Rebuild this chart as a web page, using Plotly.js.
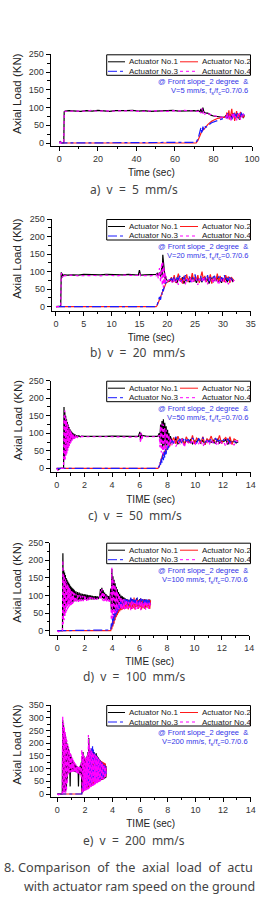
<!DOCTYPE html>
<html><head><meta charset="utf-8">
<script src="https://cdn.plot.ly/plotly-3.0.1.min.js"></script>
<style>html,body{margin:0;padding:0;background:#fff;}#chart{width:260px;height:899px;}</style>
</head><body><div id="chart"></div>
<script>
// ---------- series / labels ----------
const seriesNames = ["Actuator No.1", "Actuator No.2", "Actuator No.3", "Actuator No.4"];
const captions = ["a) v = 5 mm/s", "b) v = 20 mm/s", "c) v = 50 mm/s", "d) v = 100 mm/s", "e) v = 200 mm/s"];
const noteLine1 = "@ Front slope_2 degree  &";
const speedLabels = ["V=5 mm/s", "V=20 mm/s", "V=50 mm/s", "V=100 mm/s", "V=200 mm/s"];
const ratioLabel = 'f<span style="font-size:5.5px;baseline-shift:-2px">s</span>/f<span style="font-size:5.5px;baseline-shift:-2px">c</span>=0.7/0.6';
const xTitles = ["Time (sec)", "Time (sec)", "TIME (sec)", "TIME (sec)", "TIME (sec)"];
const yTitle = "Axial Load (KN)";
const figCaption1 = "8. Comparison  of  the  axial  load  of  actu";
const figCaption2 = "with actuator ram speed on the ground";

// ---------- a) v = 5 mm/s ----------
const t_a = [0,0.5,1,1.5,2,2.3,2.5,3,
 5,8,11,14,17,20,23,26,29,32,35,38,41,44,47,50,53,56,59,62,65,68,
 70,71,72,73,73.5,74,74.5,75,75.5,76,
 77,78,79,80,81,82,83,84,85,86,
 86.5,87,87.5,88,88.5,89,89.5,90,90.5,91,91.5,92,92.5,93,93.5,94,94.5,95,95.5,96];
const a1 = [0,5,0,0,0,0,88,90,
 91,90,89,91,90,92,90,89,91,90,91,92,90,91,89,90,91,90,92,90,91,90,
 91,90,92,88,96,85,100,88,86,84,
 84,80,78,76,75,74,74,73,72,74,
 78,70,82,72,76,80,68,84,74,79,70,86,72,78,66,82,75,80,70,78];
const a2 = [0,4,0,0,0,0,0,0,
 0,0,0,0,0,0,0,0,0,0,0,0,0,0,0,0,0,0,0,0,0,0,
 0,0,8,22,28,34,36,40,43,45,
 52,57,61,64,67,69,70,71,72,73,
 74,86,70,92,66,80,96,72,84,62,78,90,70,82,68,88,74,80,72,78];
const a3 = [0,3,0,0,0,0,0,0,
 0,0,0,0,0,0,0,0,0,0,0,0,0,0,0,0,0,0,0,0,0,0,
 0,2,12,30,44,26,46,38,48,44,
 50,53,57,59,62,64,66,67,69,71,
 76,70,84,72,80,74,66,82,76,88,72,78,84,70,80,76,86,72,82,78];
const a4 = [0,2,0,0,0,0,86,89,
 90,91,90,90,92,89,91,90,90,92,90,91,89,90,92,91,90,89,91,90,92,91,
 90,91,89,92,84,98,82,90,80,86,
 83,80,79,77,76,74,75,73,72,72,
 70,84,66,80,74,62,82,70,86,68,76,64,80,72,84,66,78,70,82,74];

// ---------- b) v = 20 mm/s ----------
const t_b = [0,0.5,0.85,0.95,1.05,1.15,1.3,1.5,2,
 3,4,5,6,7,8,9,10,11,12,13,14,
 14.8,15,15.2,16,17,17.6,18,
 18.2,18.4,18.6,18.8,19,
 19.1,19.2,19.3,19.4,19.5,19.6,19.7,19.8,
 20,20.25,20.5,
 20.75,21,21.25,21.5,21.75,22,22.25,22.5,22.75,23,23.25,23.5,23.75,24,24.25,24.5,24.75,25,25.25,25.5,25.75,26,26.25,26.5,26.75,27,27.25,27.5,27.75,28,28.25,28.5,28.75,29,29.25,29.5,29.75,30,30.25,30.5,30.75,31,31.25,31.5,31.75,32];
const b1 = [0,0,2,98,86,94,88,91,90,
 91,90,92,91,90,91,92,91,90,91,92,91,
 90,104,90,91,92,91,92,
 95,88,98,86,110,
 90,148,130,120,95,80,88,78,
 75,72,74,
 78,70,82,74,68,80,76,72,84,66,78,74,80,70,76,86,72,78,68,82,74,76,70,84,78,72,80,66,76,82,70,78,74,86,72,76,68,80,74,84,70,78,76,82,72,76];
const b2 = [0,0,0,0,0,0,0,0,0,
 0,0,0,0,0,0,0,0,0,0,0,0,
 0,0,0,0,0,0,0,
 4,12,22,30,38,
 42,48,52,56,60,62,66,68,
 70,72,76,
 84,72,90,68,80,94,74,82,66,88,76,92,70,84,78,96,72,86,74,90,68,82,100,76,88,70,84,78,92,66,86,80,74,94,72,88,76,82,70,90,78,86,68,84,80,74];
const b3 = [0,0,0,0,0,0,0,0,0,
 0,0,0,0,0,0,0,0,0,0,0,0,
 0,0,0,0,0,0,0,
 6,16,28,20,40,
 34,50,44,58,62,66,68,70,
 72,74,76,
 80,74,86,70,82,78,88,72,84,76,90,74,80,86,70,84,78,92,74,82,76,88,72,80,86,76,90,70,84,78,82,88,74,80,86,72,84,78,90,76,82,74,88,80,76,82];
const b4 = [0,0,0,92,96,82,92,88,89,
 90,88,89,90,89,88,90,89,88,90,89,88,
 89,96,88,89,88,90,88,
 96,80,110,70,125,
 60,130,55,115,65,100,70,85,
 72,76,70,
 74,66,80,70,76,62,82,72,68,78,64,80,74,70,84,66,76,72,80,62,78,70,74,86,68,76,64,80,72,78,66,84,70,74,62,80,76,68,82,70,74,64,78,72,68,76];

// ---------- c) v = 50 mm/s ----------
const t_c = [0,0.1,0.2,0.3,0.45,0.5,
 0.53,0.56,0.59,0.62,0.65,0.68,0.71,0.74,0.77,0.8,0.83,0.86,0.89,0.92,0.95,0.98,1.01,1.04,1.07,1.1,1.13,1.16,1.19,1.22,1.25,
 1.3,1.35,1.4,1.45,1.5,1.6,1.7,1.8,2,
 2.5,3,3.5,4,4.5,5,5.5,5.9,
 6,6.05,6.1,6.15,6.2,6.5,7,7.3,
 7.4,7.45,7.5,7.55,7.6,7.65,7.7,7.75,7.8,7.85,7.9,7.95,8,8.05,8.1,8.15,8.2,
 8.3,8.45,8.6,8.75,8.9,9.05,9.2,9.35,9.5,9.65,9.8,9.95,10.1,10.25,10.4,10.55,10.7,10.85,11,11.15,11.3,11.45,11.6,11.75,11.9,12.05,12.2,12.35,12.5,12.65,12.8,12.95,13.1];
const c1 = [0,-4,-2,0,0,0,
 175,30,160,40,150,45,140,55,132,60,125,68,118,72,112,76,108,80,105,82,102,84,100,86,98,
 88,96,89,94,90,93,90,92,91,
 91,90,91,92,91,90,91,91,
 104,80,100,86,94,91,90,91,
 100,85,125,70,135,60,140,65,130,60,120,65,110,70,100,72,92,
 80,72,86,70,78,84,68,80,74,82,70,78,76,84,72,80,68,82,76,74,80,70,84,72,78,76,82,68,80,74,78,72,76];
const c2 = [0,0,0,0,0,0,
 0,0,0,0,0,0,0,0,0,0,0,0,0,0,0,0,0,0,0,0,0,0,0,0,0,
 0,0,0,0,0,0,0,0,0,
 0,0,0,0,0,0,0,0,
 0,0,0,0,0,0,0,0,
 4,12,20,28,34,40,38,46,50,44,56,52,60,58,66,62,70,
 76,88,70,92,74,84,66,90,78,72,94,70,86,80,74,90,68,84,78,92,72,86,76,94,70,82,88,74,90,68,84,80,78];
const c3 = [0,0,0,0,0,0,
 0,0,0,0,0,0,0,0,0,0,0,0,0,0,0,0,0,0,0,0,0,0,0,0,0,
 0,0,0,0,0,0,0,0,0,
 0,0,0,0,0,0,0,0,
 0,0,0,0,0,0,0,0,
 6,18,10,30,16,40,22,48,30,55,40,62,50,68,58,72,66,
 80,72,90,76,84,70,88,78,82,74,86,80,72,84,78,88,74,80,76,84,72,86,78,80,74,82,76,84,72,80,78,74,80];
const c4 = [0,-6,-3,0,0,0,
 150,20,165,25,145,35,138,42,128,50,122,58,115,64,110,70,106,74,102,78,100,80,98,82,96,
 84,95,86,93,88,92,89,91,90,
 90,89,90,90,89,90,89,90,
 98,72,102,80,92,90,89,90,
 95,60,120,45,128,40,125,50,115,55,110,58,100,62,95,66,88,
 66,80,62,76,70,84,60,78,72,68,82,64,76,70,80,62,74,78,66,82,70,74,64,80,72,76,62,78,70,74,66,80,72];

// ---------- d) v = 100 mm/s ----------
const t_d = [0,0.1,0.2,0.3,0.38,
 0.41,0.44,0.47,0.5,0.53,0.56,0.59,0.62,0.65,0.68,0.71,0.74,0.77,0.8,0.83,0.86,0.89,0.92,0.95,0.98,1.01,1.04,1.07,1.1,1.13,1.16,1.19,1.22,1.25,
 1.3,1.36,1.42,1.48,1.54,1.6,1.66,1.72,1.78,1.84,1.9,1.96,2.02,2.08,2.14,2.2,2.26,2.32,2.38,2.44,2.5,2.56,2.62,2.68,2.74,2.8,2.86,2.92,2.98,3.04,
 3.1,3.15,3.2,3.25,3.3,3.35,3.4,3.45,3.5,3.55,3.6,3.65,3.7,3.75,3.8,3.85,
 3.9,3.94,3.98,4.02,4.06,4.1,4.14,4.18,4.22,4.26,4.3,4.34,4.38,4.42,4.46,4.5,4.55,4.6,4.65,4.7,4.75,4.8,4.85,4.9,4.95,5,
 5.06,5.12,5.18,5.24,5.3,5.36,5.42,5.48,5.54,5.6,5.66,5.72,5.78,5.84,5.9,5.96,6.02,6.08,6.14,6.2,6.26,6.32,6.38,6.44,6.5,6.56,6.62,6.68,6.74,6.8];
const d1 = [0,0,-2,0,0,
 220,40,172,50,165,60,158,65,150,70,145,72,140,75,136,76,132,78,128,80,125,80,122,82,120,82,118,84,115,
 84,112,85,110,86,108,86,106,87,105,87,104,88,103,88,102,88,101,89,100,89,99,89,98,90,98,90,97,90,96,
 100,118,95,122,92,115,90,108,88,104,86,100,88,98,86,96,
 120,60,175,50,155,55,145,60,135,62,125,65,118,66,110,68,105,70,100,68,98,70,95,68,92,70,
 90,68,88,72,86,66,90,70,88,72,86,68,92,70,86,74,90,68,88,72,86,70,90,66,88,72,86,70,88,74];
const d2 = [0,0,0,0,0,
 0,0,0,0,0,0,0,0,0,0,0,0,0,0,0,0,0,0,0,0,0,0,0,0,0,0,0,0,0,
 0,0,0,0,0,0,0,0,0,0,0,0,0,0,0,0,0,0,0,0,0,0,0,0,0,0,0,0,0,0,
 0,0,0,0,0,0,0,0,0,0,0,0,0,0,0,0,
 0,10,4,25,12,40,20,52,30,60,38,66,44,70,50,74,55,78,58,80,60,84,62,86,62,88,
 64,90,60,86,66,92,62,88,64,94,60,86,68,90,62,88,66,92,60,86,64,90,62,88,66,84,64,90,62,86];
const d3 = [0,0,0,0,0,
 0,0,0,0,0,0,0,0,0,0,0,0,0,0,0,0,0,0,0,0,0,0,0,0,0,0,0,0,0,
 0,0,0,0,0,0,0,0,0,0,0,0,0,0,0,0,0,0,0,0,0,0,0,0,0,0,0,0,0,0,
 0,0,0,0,0,0,0,0,0,0,0,0,0,0,0,0,
 2,20,8,35,18,48,28,58,38,66,46,72,52,76,58,80,62,84,66,86,68,88,70,90,72,90,
 74,92,72,90,76,94,72,90,78,92,74,88,76,94,72,90,78,92,74,90,76,88,74,92,76,90,72,88,76,84];
const d4 = [0,-3,0,-2,0,
 200,20,160,30,152,40,146,48,140,55,135,60,130,64,126,68,122,70,118,72,115,74,112,76,110,78,108,80,106,
 80,105,81,103,82,102,83,100,84,99,84,98,85,97,85,96,86,96,86,95,87,94,87,94,88,93,88,93,88,92,
 95,112,88,118,86,110,84,104,84,100,82,96,84,94,82,92,
 110,30,180,35,150,40,140,45,130,50,120,55,112,58,105,60,100,62,96,60,92,62,90,60,88,62,
 84,60,82,64,80,58,84,62,82,66,80,60,86,62,80,64,84,58,82,64,80,62,84,60,82,66,80,62,84,66];

// ---------- e) v = 200 mm/s ----------
const t_e = [0,0.1,0.2,0.3,0.36,
 0.39,0.42,0.45,0.48,0.51,0.54,0.57,0.6,0.63,0.66,0.69,
 0.72,0.75,0.78,0.81,0.84,0.87,0.9,0.93,0.96,0.99,1.02,1.05,1.08,1.11,1.14,1.17,1.2,1.23,1.26,1.29,1.32,1.35,1.38,1.41,1.44,1.47,1.5,1.53,1.56,1.59,1.62,1.65,1.68,1.71,1.74,
 1.77,1.8,1.83,1.86,1.89,1.92,1.95,1.98,2.01,2.04,2.07,2.1,2.13,2.16,2.19,2.22,2.25,2.28,2.31,2.34,2.37,2.4,2.43,2.46,2.49,2.52,2.55,2.58,2.61,2.64,2.67,2.7,2.73,2.76,2.79,2.82,2.85,2.88,2.91,2.94,2.97,3,3.03,3.06,3.09,3.12,3.15,3.18,3.21,3.24,3.27,3.3,3.33,3.36,3.39,3.42,3.45,3.48,3.51,3.54];
const e1 = [0,0,-2,0,0,
 290,10,270,8,250,12,235,10,215,20,200,
 60,190,82,178,86,168,88,30,155,88,146,90,138,90,130,90,124,88,118,88,114,86,110,86,108,84,106,30,104,84,108,82,115,80,125,
 10,150,15,165,12,150,18,140,15,135,20,145,18,150,22,165,25,220,28,180,30,170,32,165,35,175,36,170,38,165,40,160,42,155,44,160,45,150,46,145,48,140,50,135,52,132,54,128,55,124,56,120,58,116,60,112,62,108,64,100];
const e2 = [0,0,0,0,0,
 0,0,0,0,0,0,0,0,0,0,0,
 0,0,0,0,0,0,0,0,0,0,0,0,0,0,0,0,0,0,0,0,0,0,0,0,0,0,0,0,0,0,0,0,0,0,0,
 0,20,5,40,10,60,15,80,20,95,22,110,25,120,28,130,30,150,32,160,35,165,36,160,38,165,40,160,42,158,44,155,45,150,46,148,48,145,50,140,52,138,54,135,55,132,56,130,58,128,60,126,62,124,64,122,66,120,68,110];
const e3 = [0,0,0,0,0,
 0,0,0,0,0,0,0,0,0,0,0,
 0,0,0,0,0,0,0,0,0,0,0,0,0,0,0,0,0,0,0,0,0,0,0,0,0,0,0,0,0,0,0,0,0,0,0,
 0,15,30,10,50,15,70,20,90,25,105,28,118,30,128,32,140,35,155,36,165,38,175,40,180,42,190,44,175,45,165,46,160,48,155,50,150,52,145,54,140,55,136,56,132,58,128,60,125,62,122,64,118,66,115,68,112,70,108,72];
const e4 = [0,-3,0,-4,0,
 305,5,280,4,262,6,245,5,228,10,212,
 40,198,76,186,82,175,84,165,86,155,86,147,88,140,88,133,87,127,86,121,85,116,84,112,82,109,80,106,78,108,76,112,74,118,60,
 175,5,165,8,155,10,145,12,138,14,142,15,148,16,155,18,232,20,200,22,180,25,172,28,168,30,165,32,160,34,158,36,155,38,150,40,148,42,144,44,140,46,136,48,132,50,128,52,124,54,120,56,116,58,112,60,108,62,104,70];

// ---------- layout geometry (pixels in a 260x899 page) ----------
const W = 260, H = 899;
const px = v => v / W;
const py = v => 1 - v / H;
const panels = [
  {t:t_a, ys:[a1,a2,a3,a4], x0:50.7, x1:252,   top:54.3,  bot:145.7, xr:[-4.5,100],  yr:[-7.6,250],  xdt:20, xmn:10,  ydt:50, ymn:25, capY:190,   capX:134},
  {t:t_b, ys:[b1,b2,b3,b4], x0:51.7, x1:250.7, top:219,   bot:310.7, xr:[-0.77,35],  yr:[-11.4,250], xdt:5,  xmn:2.5, ydt:50, ymn:25, capY:352.7, capX:138},
  {t:t_c, ys:[c1,c2,c3,c4], x0:50.7, x1:250.7, top:380.7, bot:472.3, xr:[-0.43,14],  yr:[-11.4,250], xdt:2,  xmn:1,   ydt:50, ymn:25, capY:515.3, capX:134.5},
  {t:t_d, ys:[d1,d2,d3,d4], x0:50,   x1:249.3, top:542.7, bot:634.7, xr:[-0.53,14],  yr:[-11.4,250], xdt:2,  xmn:1,   ydt:50, ymn:25, capY:676.7, capX:134},
  {t:t_e, ys:[e1,e2,e3,e4], x0:50.7, x1:250.7, top:705,   bot:796.7, xr:[-0.48,14],  yr:[-10.6,350], xdt:2,  xmn:1,   ydt:50, ymn:25, capY:840,   capX:134}
];

const colors = ['#000000', '#ff1a1a', '#1a1aff', '#ff00ff'];
const dashes = ['solid', 'solid', 'dashdot', 'dot'];
const FONT = 'Arial, "Liberation Sans", sans-serif';
const CAPFONT = '"Noto Sans", "Noto Sans CJK KR", sans-serif';

const traces = [];
const layout = {
  width: W, height: H, margin: {l:0, r:0, t:0, b:0},
  paper_bgcolor: '#ffffff', plot_bgcolor: 'rgba(0,0,0,0)',
  showlegend: false, shapes: [], annotations: []
};

const fmtSpaces = s => s.replace(/ /g, '\u00A0\u00A0');

panels.forEach((p, i) => {
  const sfx = i === 0 ? '' : String(i + 1);
  p.ys.forEach((ys, k) => {
    traces.push({
      type: 'scatter', mode: 'lines', x: p.t, y: ys,
      xaxis: 'x' + sfx, yaxis: 'y' + sfx, name: seriesNames[k],
      line: {color: colors[k], width: 1.2, dash: dashes[k]},
      hoverinfo: 'skip', showlegend: false
    });
  });
  const common = {
    showline: true, linecolor: '#000', linewidth: 1, mirror: false,
    showgrid: false, zeroline: false, ticks: 'outside', ticklen: 4, tickwidth: 1, tickcolor: '#000',
    tickfont: {family: FONT, size: 9, color: '#333'}, automargin: false, fixedrange: true
  };
  layout['xaxis' + sfx] = Object.assign({}, common, {
    domain: [px(p.x0), px(p.x1)], range: p.xr, anchor: 'y' + sfx,
    tick0: 0, dtick: p.xdt,
    minor: {tick0: 0, dtick: p.xmn, ticks: 'outside', ticklen: 2.5, tickwidth: 1, tickcolor: '#000', showgrid: false},
    title: {text: xTitles[i], font: {family: FONT, size: 10, color: '#222'}, standoff: 6}
  });
  layout['yaxis' + sfx] = Object.assign({}, common, {
    domain: [py(p.bot), py(p.top)], range: p.yr, anchor: 'x' + sfx,
    tick0: 0, dtick: p.ydt,
    minor: {tick0: 0, dtick: p.ymn, ticks: 'outside', ticklen: 2.5, tickwidth: 1, tickcolor: '#000', showgrid: false}
  });
  // y axis title placed as a rotated annotation next to the axis
  layout.annotations.push({xref: 'paper', yref: 'paper', x: px(17), y: py((p.top + p.bot) / 2 - 6),
    xanchor: 'center', yanchor: 'middle', showarrow: false, textangle: -90, text: yTitle,
    font: {family: FONT, size: 11.5, color: '#222'}});

  // legend box (2 x 2)
  const lt = p.top + 0.5;
  layout.shapes.push({type: 'rect', xref: 'paper', yref: 'paper',
    x0: px(106.7), x1: px(250.5), y0: py(lt + 20.5), y1: py(lt),
    line: {color: '#000', width: 1}, fillcolor: 'rgba(255,255,255,0)'});
  const rows = [lt + 7, lt + 16.5];
  const cols = [[108, 125, 127], [180, 198, 200]];
  for (let k = 0; k < 4; k++) {
    const r = rows[Math.floor(k / 2)], c = cols[k % 2];
    layout.shapes.push({type: 'line', xref: 'paper', yref: 'paper',
      x0: px(c[0]), x1: px(c[1]), y0: py(r), y1: py(r),
      line: {color: colors[k], width: 1, dash: dashes[k]}});
    layout.annotations.push({xref: 'paper', yref: 'paper', x: px(c[2]), y: py(r),
      xanchor: 'left', yanchor: 'middle', showarrow: false, text: seriesNames[k],
      font: {family: FONT, size: 8, color: '#222'}});
  }
  // blue condition note
  layout.annotations.push({xref: 'paper', yref: 'paper', x: px(250), y: py(p.top + 27.5),
    xanchor: 'right', yanchor: 'middle', showarrow: false, text: noteLine1.replace(/  /g, '\u00A0\u00A0'),
    font: {family: FONT, size: 7.5, color: '#3535e8'}});
  layout.annotations.push({xref: 'paper', yref: 'paper', x: px(250), y: py(p.top + 37),
    xanchor: 'right', yanchor: 'middle', showarrow: false, text: speedLabels[i] + ', ' + ratioLabel,
    font: {family: FONT, size: 7.5, color: '#3535e8'}});
  // sub-caption
  layout.annotations.push({xref: 'paper', yref: 'paper', x: px(p.capX), y: py(p.capY),
    xanchor: 'center', yanchor: 'middle', showarrow: false, text: fmtSpaces(captions[i]),
    font: {family: CAPFONT, size: 12, color: '#444'}});
});

// figure caption (the source image is cropped at its right edge)
layout.annotations.push({xref: 'paper', yref: 'paper', x: px(2), y: py(866.7),
  xanchor: 'left', yanchor: 'middle', showarrow: false, text: figCaption1.replace(/  /g, '\u00A0\u00A0'),
  font: {family: CAPFONT, size: 12.7, color: '#444'}});
layout.annotations.push({xref: 'paper', yref: 'paper', x: px(22), y: py(886.7),
  xanchor: 'left', yanchor: 'middle', showarrow: false, text: figCaption2,
  font: {family: CAPFONT, size: 12.5, color: '#444'}});

Plotly.newPlot('chart', traces, layout, {staticPlot: true, displayModeBar: false});
</script>
</body></html>
